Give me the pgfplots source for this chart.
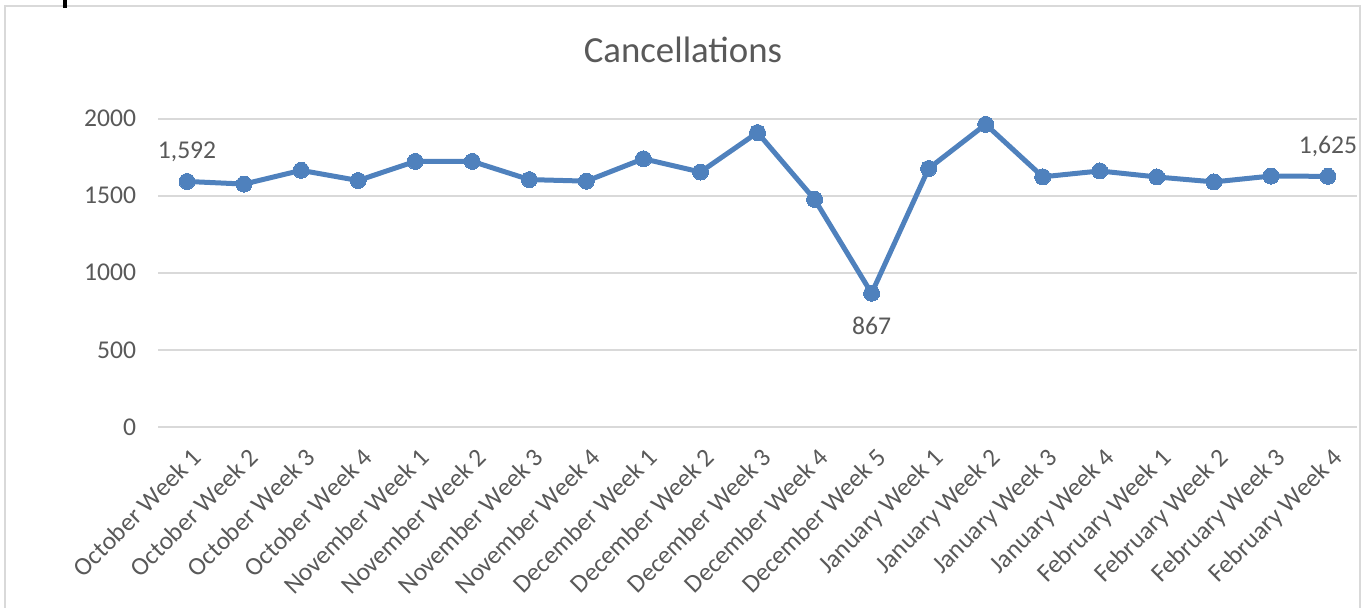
\documentclass[border=0pt]{standalone}
\usepackage{fontspec}
\setmainfont{Carlito}
\usepackage{pgfplots}
\pgfplotsset{compat=1.18}
\definecolor{linecol}{HTML}{4F81BD}
\definecolor{txt}{HTML}{595959}
\definecolor{gridc}{HTML}{D9D9D9}

\begin{document}
\begin{tikzpicture}
\begin{axis}[
  at={(0,0)}, anchor=south west,
  scale only axis, width=599pt, height=154.25pt,
  xmin=-0.5, xmax=20.5, ymin=0, ymax=2000,
  axis line style={draw=none},
  ytick={0,500,...,2000},
  xtick={0,...,20},
  xticklabels={October Week 1,October Week 2,October Week 3,October Week 4,
    November Week 1,November Week 2,November Week 3,November Week 4,
    December Week 1,December Week 2,December Week 3,December Week 4,December Week 5,
    January Week 1,January Week 2,January Week 3,January Week 4,
    February Week 1,February Week 2,February Week 3,February Week 4},
  ymajorgrids, grid style={gridc, line width=1pt},
  major tick length=0pt,
  tick label style={font=\fontsize{12.8}{14}\selectfont, text=txt},
  yticklabel style={inner sep=0pt, xshift=-11pt},
  xticklabel style={xshift=1.5pt, yshift=-9.5pt, rotate=45, anchor=north east, inner sep=0pt},
  /pgf/number format/assume math mode=true,
  /pgf/number format/1000 sep={},
  clip=false,
]
\addplot[color=linecol, line width=2.5pt, mark=*, mark size=4pt, mark options={fill=linecol, draw=linecol, line width=0pt}]
  coordinates {
  (0,1592) (1,1575) (2,1664) (3,1598) (4,1722) (5,1722) (6,1604)
  (7,1594) (8,1739) (9,1653) (10,1909) (11,1476) (12,867)
  (13,1676) (14,1962) (15,1622) (16,1660) (17,1621) (18,1589)
  (19,1627) (20,1625)};
\addplot[draw=none, mark=none, nodes near coords, point meta=explicit symbolic,
  nodes near coords align={above},
  every node near coord/.append style={font=\fontsize{12.8}{14}\selectfont, text=txt, yshift=6.5pt}]
  coordinates {(0,1592) [1,592] (20,1625) [1,625]};
\addplot[draw=none, mark=none, nodes near coords, point meta=explicit symbolic,
  nodes near coords align={below},
  every node near coord/.append style={font=\fontsize{12.8}{14}\selectfont, text=txt, yshift=-8.5pt}]
  coordinates {(12,867) [867]};
\end{axis}
\node[font=\fontsize{18.4}{20}\selectfont, text=txt] at (262.25pt,188.5pt) {Cancellations};
\draw[gridc, line width=1pt] (-76.75pt,-92pt) -- (-76.75pt,210.5pt) -- (600.75pt,210.5pt) -- (600.75pt,-92pt);
\fill[black] (-47.75pt,209.5pt) rectangle (-45.75pt,214pt);
\pgfresetboundingbox
\path[use as bounding box] (-79.25pt,-90pt) rectangle (603.25pt,213.5pt);
\end{tikzpicture}
\end{document}
